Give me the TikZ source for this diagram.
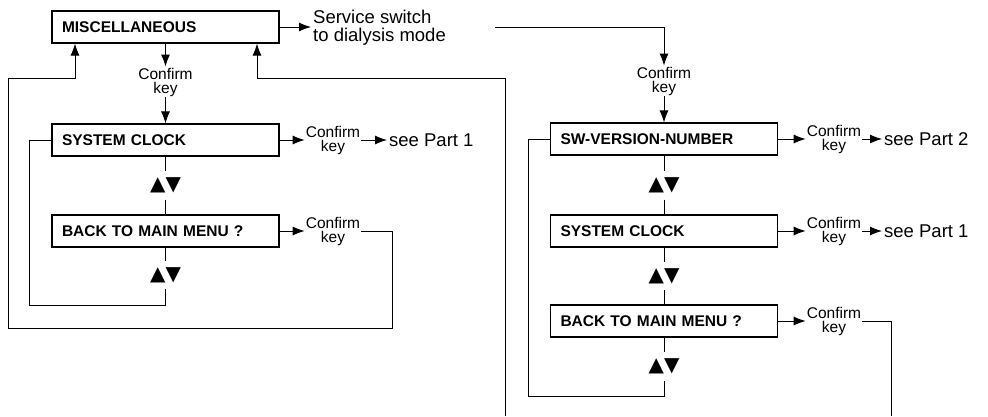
\documentclass[tikz,border=0pt]{standalone}
\usepackage{fontspec}
\setmainfont{Liberation Sans}
\newfontfamily\symfont{DejaVu Sans}
\usetikzlibrary{arrows.meta,positioning}

\begin{document}
\begin{tikzpicture}[x=1pt, y=-1pt,
  menu/.style={draw, line width=1.1pt, minimum height=32pt, text width=207pt, inner xsep=10pt, align=left, font=\fontsize{15.5}{18}\selectfont\bfseries},
  ck/.style={align=center, inner sep=1pt, font=\fontsize{15.5}{14}\selectfont},
  txt/.style={align=left, inner sep=2pt, anchor=west, font=\fontsize{18.5}{17.5}\selectfont},
  ud/.style={inner sep=0pt, minimum height=28pt, font=\fontsize{20}{20}\selectfont\symfont},
  arrow/.style={-{Latex[length=12pt,width=9pt]}, line width=0.9pt},
  wire/.style={line width=0.9pt}
]
  \useasboundingbox (0,0) rectangle (988,416);

  \node[menu] (misc) at (165.5,27) {MISCELLANEOUS};
  \node[txt] (svc) at (311,27.5) {Service switch\\to dialysis mode};
  \node[ck] (ckm) at (165.5,82) {Confirm\\key};

  \node[menu] (clk1) at (165.5,140) {SYSTEM CLOCK};
  \node[ck] (ckc1) at (333,140) {Confirm\\key};
  \node[txt] (part1a) at (387,140) {see Part 1};
  \node[ud] (ud1) at (165.5,185.5) {▲▼};
  \node[menu] (back1) at (165.5,231) {BACK TO MAIN MENU ?};
  \node[ck] (ckb1) at (333,231) {Confirm\\key};
  \node[ud] (ud2) at (165.5,275) {▲▼};

  \node[ck] (cks) at (664,81) {Confirm\\key};
  \node[menu] (sw) at (664,139) {SW-VERSION-NUMBER};
  \node[ck] (cksw) at (834,139) {Confirm\\key};
  \node[txt] (part2) at (882,139) {see Part 2};
  \node[ud] (ud3) at (664,185.5) {▲▼};
  \node[menu] (clk2) at (664,231) {SYSTEM CLOCK};
  \node[ck] (ckc2) at (834,231) {Confirm\\key};
  \node[txt] (part1b) at (882,231) {see Part 1};
  \node[ud] (ud4) at (664,276) {▲▼};
  \node[menu] (back2) at (664,321) {BACK TO MAIN MENU ?};
  \node[ck] (ckb2) at (834,321) {Confirm\\key};
  \node[ud] (ud5) at (664,366.5) {▲▼};

  \coordinate (svcend) at (495,27);
  \coordinate (retl) at (75,78);
  \coordinate (retr) at (257,78);
  \coordinate (outl) at (8,78);
  \coordinate (turnl) at (392,328);
  \coordinate (loopl) at (29,305);
  \coordinate (loopr) at (528,396);
  \coordinate (exitr) at (891,416);
  \coordinate (entr) at (505,416);

  \draw[arrow] (misc) -- (misc -| svc.west);
  \draw[arrow] (svcend) -| (cks);
  \draw[arrow] (misc) -- (ckm);
  \draw[arrow] (ckm) -- (clk1);
  \draw[arrow] (clk1) -- (ckc1);
  \draw[arrow] (ckc1) -- (part1a);
  \draw[wire] (clk1) -- (ud1);
  \draw[wire] (ud1) -- (back1);
  \draw[wire] (back1) -- (ud2);
  \draw[wire] (clk1) -| (loopl) -| (ud2);
  \draw[arrow] (back1) -- (ckb1);
  \draw[arrow] (ckb1) -| (turnl) -| (outl) -- (retl) -- (retl |- misc.south);
  \draw[arrow] (entr) |- (retr) -- (retr |- misc.south);

  \draw[arrow] (cks) -- (sw);
  \draw[arrow] (sw) -- (cksw);
  \draw[arrow] (cksw) -- (part2);
  \draw[wire] (sw) -- (ud3);
  \draw[wire] (ud3) -- (clk2);
  \draw[arrow] (clk2) -- (ckc2);
  \draw[arrow] (ckc2) -- (part1b);
  \draw[wire] (clk2) -- (ud4);
  \draw[wire] (ud4) -- (back2);
  \draw[arrow] (back2) -- (ckb2);
  \draw[wire] (back2) -- (ud5);
  \draw[wire] (sw) -| (loopr) -| (ud5);
  \draw[wire] (ckb2) -| (exitr);
\end{tikzpicture}
\end{document}
